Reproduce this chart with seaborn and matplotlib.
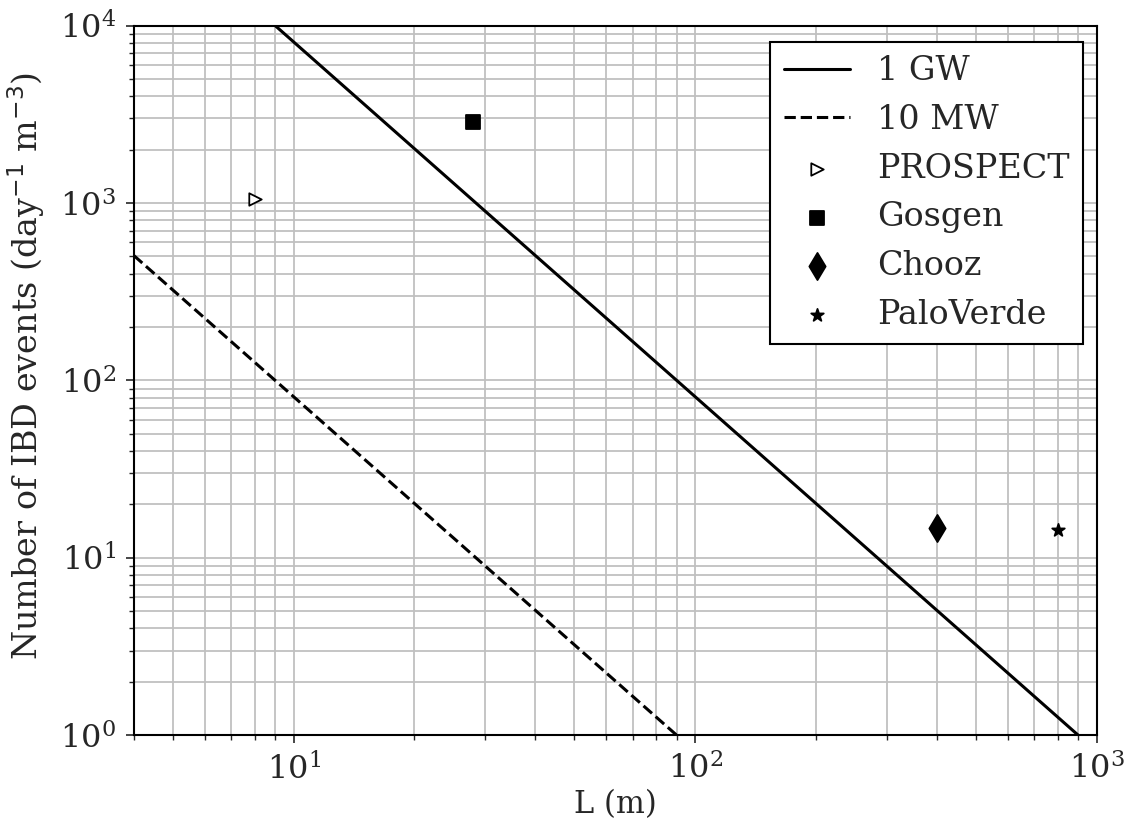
import matplotlib
matplotlib.use("Agg")
import matplotlib.pyplot as plt
import seaborn as sns
import pandas as pd

# reactor curves (endpoints of the 1/L^2 lines)
L_1gw = [9, 900]
ev_1gw = [1e4, 1.0]
L_10mw = [4, 90]
ev_10mw = [506, 1.0]

# experiments
exp_names = ['PROSPECT', 'Gosgen', 'Chooz', 'PaloVerde']
exp_L = [8.0, 28.0, 400.0, 800.0]
exp_events = [1060, 2850, 14.8, 14.4]
exp_markers = ['>', 's', 'd', '*']
exp_sizes = [80, 110, 190, 90]
exp_face = ['white', 'black', 'black', 'black']

sns.set_style("ticks")
plt.rcParams['font.family'] = ['DejaVu Serif']

fig = plt.figure(figsize=(11.34, 8.27), dpi=100)
ax = fig.add_axes([0.118, 0.111, 0.849, 0.858])

sns.lineplot(x=L_1gw, y=ev_1gw, ax=ax, color='black', linewidth=2.2, label='1 GW')
sns.lineplot(x=L_10mw, y=ev_10mw, ax=ax, color='black', linewidth=2.2, linestyle='--', label='10 MW')

df = pd.DataFrame({'L': exp_L, 'events': exp_events, 'name': exp_names})
for i, row in df.iterrows():
    sns.scatterplot(x=[row.L], y=[row.events], ax=ax, marker=exp_markers[i],
                    s=exp_sizes[i], facecolor=exp_face[i], edgecolor='black',
                    linewidth=1.3, label=row['name'], zorder=5)

ax.set_xscale('log')
ax.set_yscale('log')
ax.set_xlim(4, 1000)
ax.set_ylim(1, 1e4)

ax.grid(True, which='both', color='#c0c0c0', linewidth=1.3)
ax.set_axisbelow(True)
for s in ax.spines.values():
    s.set_linewidth(1.5)
    s.set_color('black')
ax.tick_params(which='major', labelsize=23, length=6, width=1.2, pad=7)
ax.tick_params(which='minor', length=3.5, width=1)

ax.set_xlabel('L (m)', fontsize=22, labelpad=2)
ax.set_ylabel(r'Number of IBD events (day$^{-1}$ m$^{-3}$)', fontsize=24)
ax.yaxis.set_label_coords(-0.09, 0.52)

leg = ax.legend(loc='upper right', fontsize=24, fancybox=False, framealpha=1,
                edgecolor='black', handlelength=2.0, handletextpad=0.8,
                borderpad=0.4, labelspacing=0.5, borderaxespad=0,
                bbox_to_anchor=(0.986, 0.977))
leg.get_frame().set_linewidth(1.5)

fig.savefig('out.png', dpi=100)
